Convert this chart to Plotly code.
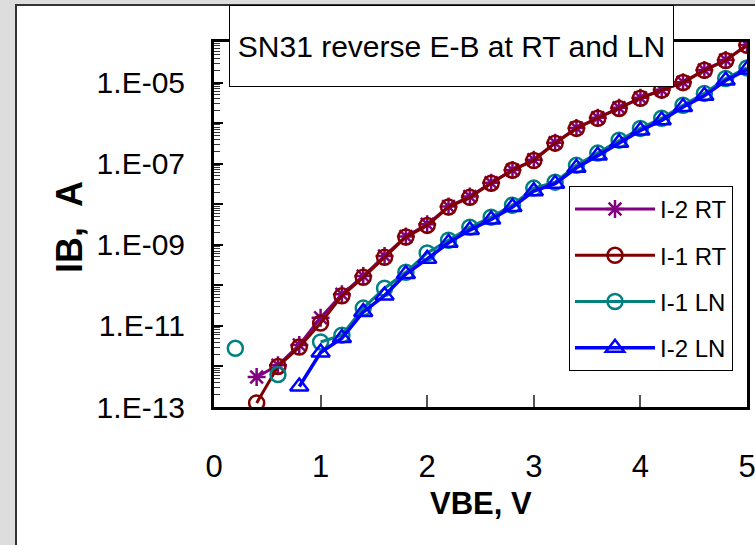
import plotly.graph_objects as go

# ---- data (A) ----
vbe = [0.2, 0.4, 0.6, 0.8, 1.0, 1.2, 1.4, 1.6, 1.8, 2.0, 2.2, 2.4, 2.6,
       2.8, 3.0, 3.2, 3.4, 3.6, 3.8, 4.0, 4.2, 4.4, 4.6, 4.8, 5.0]

i2_rt = [None, 5.5e-13, 1.07e-12, 3.4e-12, 1.58e-11, 6.0e-11, 1.7e-10, 5.3e-10,
         1.6e-9, 3.2e-9, 8.8e-9, 1.55e-8, 3.4e-8, 7.0e-8, 1.25e-7, 3.3e-7,
         7.6e-7, 1.35e-6, 2.4e-6, 4.2e-6, 6.6e-6, 1.02e-5, 2.05e-5, 3.6e-5, 8.4e-5]

i1_rt = [None, 1.26e-13, 1.0e-12, 3.0e-12, 1.17e-11, 5.5e-11, 1.58e-10, 4.9e-10,
         1.55e-9, 3.0e-9, 8.5e-9, 1.48e-8, 3.3e-8, 6.9e-8, 1.2e-7, 3.2e-7,
         7.4e-7, 1.32e-6, 2.3e-6, 4.1e-6, 6.5e-6, 1.0e-5, 2.0e-5, 3.5e-5, 8.3e-5]

i1_ln = [2.8e-12, None, 6.3e-13, None, 4.0e-12, 5.9e-12, 2.75e-11, 8.5e-11,
         2.1e-10, 6.3e-10, 1.29e-9, 2.7e-9, 4.8e-9, 9.5e-9, 2.5e-8, 3.5e-8,
         9.1e-8, 1.82e-7, 3.8e-7, 7.4e-7, 1.32e-6, 2.75e-6, 5.4e-6, 1.26e-5, 2.3e-5]

i2_ln = [None, None, None, 3.2e-13, 2.2e-12, 5.0e-12, 2.2e-11, 5.6e-11,
         1.9e-10, 4.5e-10, 1.12e-9, 2.3e-9, 4.2e-9, 8.5e-9, 2.1e-8, 3.2e-8,
         7.9e-8, 1.58e-7, 3.3e-7, 6.6e-7, 1.17e-6, 2.5e-6, 4.7e-6, 1.12e-5, 2.1e-5]

x_ticks = [0, 1, 2, 3, 4, 5]
y_tick_exps = list(range(-13, -3))
y_tick_text = ["1.E-13", "", "1.E-11", "", "1.E-09", "", "1.E-07", "", "1.E-05", ""]

title_text = "SN31 reverse E-B at RT and LN"
x_title = "VBE, V"
y_title = "IB,\u00a0\u00a0A"

# ---- layout geometry (pixels) ----
W, H = 755, 545
L, R, T, B = 214, 747, 42, 407   # plot area edges


def px(x):
    return (x - L) / (R - L)


def py(y):
    return (B - y) / (B - T)


FONT = "Liberation Sans Narrow, Arial Narrow, Liberation Sans, Arial, sans-serif"

fig = go.Figure()

series = [
    ("I-2 RT", i2_rt, "#800080", "asterisk-open", 15, 3),
    ("I-1 RT", i1_rt, "#800000", "circle-open", 15, 3),
    ("I-1 LN", i1_ln, "#008080", "circle-open", 15, 3),
    ("I-2 LN", i2_ln, "#0000FF", "triangle-up-open", 16, 3.5),
]
for name, ys, col, sym, size, lw in series:
    fig.add_trace(go.Scatter(
        x=vbe, y=ys, name=name, mode="lines+markers",
        connectgaps=False, legendgroup=name,
        line=dict(color=col, width=lw),
        marker=dict(symbol=sym, size=size, color=col,
                    line=dict(color=col, width=2.5)),
    ))

minor_vals = [m * 10.0 ** e for e in range(-13, -4) for m in range(2, 10)]

fig.update_layout(
    width=W, height=H,
    margin=dict(l=L, r=W - R, t=T, b=H - B, pad=0, autoexpand=False),
    paper_bgcolor="#dddddd",
    plot_bgcolor="white",
    font=dict(family=FONT, color="black", size=30),
    showlegend=True,
    legend=dict(
        x=px(569), y=py(186), xanchor="left", yanchor="top",
        bgcolor="white", bordercolor="black", borderwidth=1,
        font=dict(family=FONT, size=24, color="black"),
        traceorder="grouped", tracegroupgap=12, itemwidth=80,
    ),
    xaxis=dict(
        range=[0, 5], tickmode="array", tickvals=x_ticks,
        ticktext=[str(v) for v in x_ticks],
        ticks="inside", ticklen=12, tickwidth=2, tickcolor="#555555",
        showline=True, linecolor="black", linewidth=3, mirror=True,
        showgrid=False, zeroline=False, automargin=False,
        tickfont=dict(family=FONT, size=31),
        ticklabelstandoff=30, ticklabeloverflow="allow",
    ),
    yaxis=dict(
        type="log", range=[-13, -4], tickmode="array",
        tickvals=[10.0 ** e for e in y_tick_exps], ticktext=y_tick_text,
        ticks="inside", ticklen=9, tickwidth=1.5, tickcolor="black",
        minor=dict(ticks="inside", ticklen=6, tickwidth=1, tickcolor="#333333",
                   tickmode="array", tickvals=minor_vals, showgrid=False),
        showline=True, linecolor="black", linewidth=3, mirror=True,
        showgrid=False, zeroline=False, automargin=False,
        tickfont=dict(family=FONT, size=30),
        ticklabelstandoff=20, ticklabeloverflow="allow",
    ),
    shapes=[dict(
        type="rect", xref="paper", yref="paper", layer="below",
        x0=px(16), x1=px(775), y0=py(565), y1=py(5),
        fillcolor="white", line=dict(color="#333333", width=2),
    )],
    annotations=[
        dict(text=title_text, xref="paper", yref="paper",
             x=px(451.5), y=py(46), xanchor="center", yanchor="middle",
             showarrow=False, width=441, height=78, borderpad=1,
             bgcolor="white", bordercolor="black", borderwidth=1,
             font=dict(family=FONT, size=30, color="black")),
        dict(text="<b>" + x_title + "</b>", xref="paper", yref="paper",
             x=px(481), y=py(504), xanchor="center", yanchor="middle",
             showarrow=False, font=dict(family=FONT, size=31, color="black")),
        dict(text="<b>" + y_title + "</b>", xref="paper", yref="paper",
             x=px(69), y=py(227), xanchor="center", yanchor="middle",
             textangle=-90, showarrow=False,
             font=dict(family=FONT, size=36, color="black")),
    ],
)

fig.write_html("out.html")
